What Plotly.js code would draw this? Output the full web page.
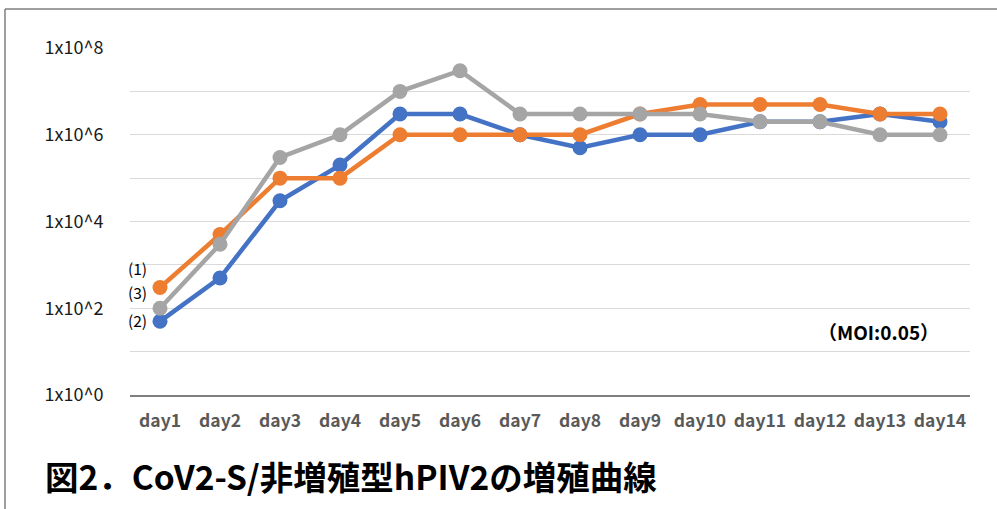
<!DOCTYPE html>
<html><head><meta charset="utf-8">
<script src="https://cdn.plot.ly/plotly-3.0.1.min.js"></script>
<style>html,body{margin:0;padding:0;background:#fff}#chart{width:997px;height:509px}</style>
</head><body><div id="chart"></div>
<script>
const days = ["day1","day2","day3","day4","day5","day6","day7","day8","day9","day10","day11","day12","day13","day14"];
const series1 = [300, 5000, 1e5, 1e5, 1e6, 1e6, 1e6, 1e6, 3e6, 5e6, 5e6, 5e6, 3e6, 3e6];      // (1) orange
const series2 = [50, 500, 3e4, 2e5, 3e6, 3e6, 1e6, 5e5, 1e6, 1e6, 2e6, 2e6, 3e6, 2e6];         // (2) blue
const series3 = [100, 3000, 3e5, 1e6, 1e7, 3e7, 3e6, 3e6, 3e6, 3e6, 2e6, 2e6, 1e6, 1e6];       // (3) gray
const yTickVals = [1, 10, 100, 1e3, 1e4, 1e5, 1e6, 1e7, 1e8];
const yTickText = ["1x10^0", "", "1x10^2", "", "1x10^4", "", "1x10^6", "", "1x10^8"];
const seriesLabels = ["(1)", "(3)", "(2)"];
const titleText = "図2．CoV2-S/非増殖型hPIV2の増殖曲線";
const noteText = "（MOI:0.05）";

const font = "'Noto Sans CJK JP', 'Noto Sans', sans-serif";
function tr(y, color) {
  return {x: days, y: y, type: 'scatter', mode: 'lines+markers',
    line: {color: color, width: 4.5}, marker: {color: color, size: 15}, showlegend: false, hoverinfo: 'skip'};
}
const data = [tr(series2, '#4472C4'), tr(series1, '#ED7D31'), tr(series3, '#A5A5A5')];

const layout = {
  width: 997, height: 509,
  margin: {l: 130, r: 27, t: 48, b: 114},
  paper_bgcolor: '#fff', plot_bgcolor: '#fff',
  font: {family: font},
  title: {text: '<b>' + titleText + '</b>', x: 45/997, xanchor: 'left', xref: 'container',
          y: 1 - 478/509, yanchor: 'middle', yref: 'container',
          font: {size: 33.5, color: '#000', family: font}},
  xaxis: {type: 'category', showgrid: false, showline: true, linecolor: '#7f7f7f', linewidth: 1.5,
          ticks: 'outside', ticklen: 9, tickcolor: 'rgba(0,0,0,0)',
          tickfont: {size: 17.5, color: '#595959', family: font, weight: 'bold'},
          range: [-0.5, 13.5], fixedrange: true},
  yaxis: {type: 'log', range: [0, 8], tickvals: yTickVals, ticktext: yTickText,
          showgrid: true, gridcolor: '#d9d9d9', gridwidth: 1, zeroline: false, showline: false,
          ticks: 'outside', ticklen: 22, tickcolor: 'rgba(0,0,0,0)',
          tickfont: {size: 18, color: '#1a1a1a', family: font}, fixedrange: true},
  shapes: [
    {type: 'line', xref: 'paper', yref: 'paper', x0: (5-130)/840, x1: (997-130)/840, y0: (395-9)/347, y1: (395-9)/347,
     line: {color: '#7f7f7f', width: 1.5}},
    {type: 'line', xref: 'paper', yref: 'paper', x0: (5-130)/840, x1: (5-130)/840, y0: (395-9)/347, y1: (395-515)/347,
     line: {color: '#7f7f7f', width: 1.5}}
  ],
  annotations: [
    {text: seriesLabels[0], x: -0.37, y: 2.93, xref: 'x', yref: 'y', showarrow: false, font: {size: 15.5, color: '#000', family: font}},
    {text: seriesLabels[1], x: -0.37, y: 2.37, xref: 'x', yref: 'y', showarrow: false, font: {size: 15.5, color: '#000', family: font}},
    {text: seriesLabels[2], x: -0.37, y: 1.73, xref: 'x', yref: 'y', showarrow: false, font: {size: 15.5, color: '#000', family: font}},
    {text: '<b>' + noteText + '</b>', x: (941-130)/840, xanchor: 'right', y: (395-347)/347, xref: 'paper', yref: 'paper', showarrow: false,
     font: {size: 19, color: '#000', family: font}}
  ]
};
Plotly.newPlot('chart', data, layout, {displayModeBar: false, staticPlot: true});
</script></body></html>
